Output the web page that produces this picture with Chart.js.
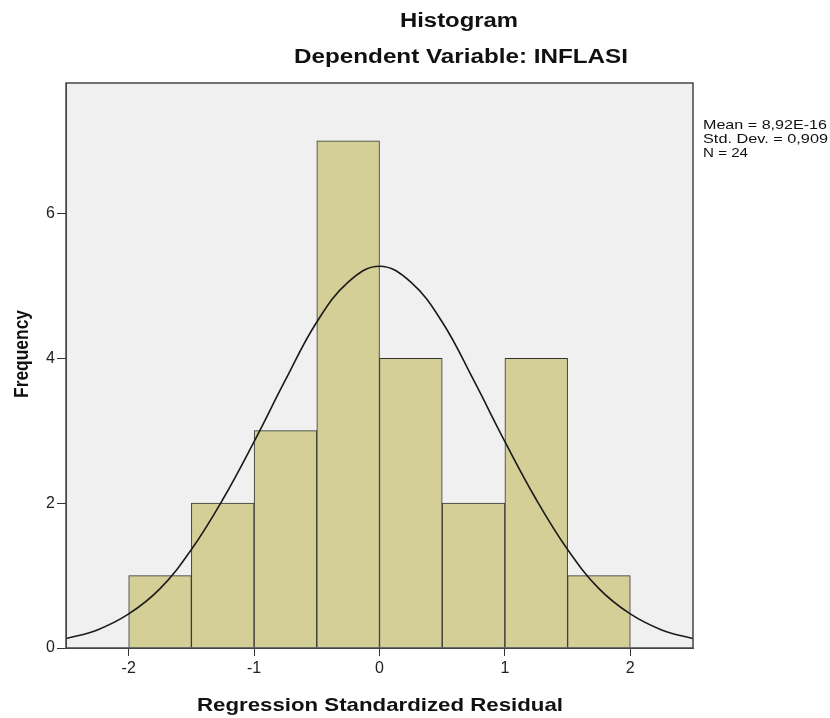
<!DOCTYPE html>
<html>
<head>
<meta charset="utf-8">
<script src="https://cdn.jsdelivr.net/npm/chart.js@4.4.1/dist/chart.umd.min.js"></script>
<style>
  html, body { margin: 0; padding: 0; background: #fff; }
  #wrap { width: 830px; height: 718px; }
</style>
</head>
<body>
<div id="wrap"><canvas id="histChart" width="830" height="718"></canvas></div>
<script>
// bins of the standardized residual (centre of each 0.5 wide bin)
const binCenters = [-1.75, -1.25, -0.75, -0.25, 0.25, 0.75, 1.25, 1.75];
const binCounts = [1, 2, 3, 7, 4, 2, 4, 1];

// normal curve, values
const curveX = [-2.5, -2.25, -2, -1.75, -1.5, -1.25, -1, -0.75, -0.5, -0.25, 0,
                0.25, 0.5, 0.75, 1, 1.25, 1.5, 1.75, 2, 2.25, 2.5];
const curveY = [0.13, 0.25, 0.47, 0.82, 1.36, 2.05, 2.85, 3.7, 4.5, 5.05, 5.27,
                5.05, 4.5, 3.7, 2.85, 2.05, 1.36, 0.82, 0.47, 0.25, 0.13];

const xTicks = [-2, -1, 0, 1, 2];
const yTicks = [0, 2, 4, 6];
const statLines = ["Mean = 8,92E-16", "Std. Dev. = 0,909", "N = 24"];

const FONT = "'Liberation Sans', Arial, sans-serif";

// draws text squeezed/stretched to a given width (SPSS output is a bit wide)
function fitText(ctx, text, x, y, size, bold, width, rotate) {
    ctx.save();
    ctx.font = (bold ? "bold " : "") + size + "px " + FONT;
    const w = ctx.measureText(text).width;
    ctx.translate(x, y);
    if (rotate) ctx.rotate(-Math.PI / 2);
    ctx.scale(width / w, 1);
    ctx.textAlign = "left";
    ctx.textBaseline = "alphabetic";
    ctx.fillStyle = "#111";
    ctx.fillText(text, 0, 0);
    ctx.restore();
}

const spssFrame = {
    id: "spssFrame",
    beforeDraw(chart) {
        const { ctx, chartArea: a } = chart;
        ctx.save();
        ctx.fillStyle = "#ffffff";
        ctx.fillRect(0, 0, chart.width, chart.height);
        ctx.fillStyle = "#f0f0f0";
        ctx.fillRect(a.left, a.top, a.right - a.left, a.bottom - a.top);
        ctx.restore();
    },
    afterDraw(chart) {
        const { ctx, chartArea: a } = chart;
        ctx.save();
        ctx.strokeStyle = "#454545";
        ctx.lineWidth = 1.5;
        ctx.strokeRect(a.left, a.top, a.right - a.left, a.bottom - a.top);
        ctx.restore();

        fitText(ctx, "Histogram", 400, 27, 20, true, 118);
        fitText(ctx, "Dependent Variable: INFLASI", 294, 63, 20, true, 334);
        fitText(ctx, "Regression Standardized Residual", 197, 711, 19, true, 366);
        fitText(ctx, "Frequency", 28, 398, 21, true, 88, true);

        const widths = [124, 125, 45];
        statLines.forEach((t, i) => {
            fitText(ctx, t, 703, 129 + i * 14, 13, false, widths[i]);
        });
    }
};

new Chart(document.getElementById("histChart"), {
    type: "bar",
    data: {
        datasets: [
            {
                type: "line",
                data: curveX.map((x, i) => ({ x: x, y: curveY[i] })),
                borderColor: "#1a1a1a",
                borderWidth: 1.6,
                pointRadius: 0,
                tension: 0.4,
                fill: false,
                order: 0
            },
            {
                type: "bar",
                data: binCenters.map((x, i) => ({ x: x, y: binCounts[i] })),
                backgroundColor: "#d3cf96",
                borderColor: "#333333",
                borderWidth: 1,
                barPercentage: 1,
                categoryPercentage: 1,
                order: 1
            }
        ]
    },
    options: {
        responsive: false,
        animation: false,
        layout: { padding: { top: 83, right: 137, left: 0, bottom: 0 } },
        plugins: {
            legend: { display: false },
            tooltip: { enabled: false },
            title: { display: false }
        },
        scales: {
            x: {
                type: "linear",
                min: -2.5,
                max: 2.5,
                offset: false,
                afterBuildTicks: s => { s.ticks = xTicks.map(v => ({ value: v })); },
                afterFit: s => { s.height = 70; },
                grid: { offset: false, drawOnChartArea: false, drawTicks: true, tickLength: 8, color: "#333" },
                border: { display: true, color: "#454545", width: 1 },
                ticks: { font: { family: FONT, size: 16 }, color: "#222", padding: 3, maxRotation: 0 }
            },
            y: {
                type: "linear",
                min: 0,
                max: 7.8,
                afterBuildTicks: s => { s.ticks = yTicks.map(v => ({ value: v })); },
                afterFit: s => { s.width = 66; },
                grid: { drawOnChartArea: false, drawTicks: true, tickLength: 9, color: "#333" },
                border: { display: true, color: "#454545", width: 1 },
                ticks: { font: { family: FONT, size: 16 }, color: "#222", padding: 2 }
            }
        }
    },
    plugins: [spssFrame]
});
</script>
</body>
</html>
